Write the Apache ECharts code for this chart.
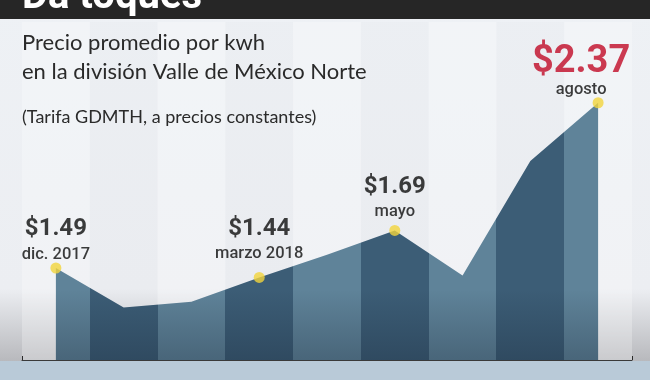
<!DOCTYPE html>
<html>
<head>
<meta charset="utf-8">
<script src="https://cdn.jsdelivr.net/npm/echarts@6/dist/echarts.min.js"></script>
<style>
html,body{margin:0;padding:0;background:#eef1f5;}
#chart{width:650px;height:380px;}
</style>
</head>
<body>
<div id="chart"></div>
<script>
// ---- data ----
var categories = ['dic. 2017','ene. 2018','feb. 2018','marzo 2018','abr. 2018','mayo','jun. 2018','jul. 2018','agosto'];
var values = [1.49, 1.28, 1.31, 1.44, 1.56, 1.69, 1.45, 2.06, 2.37];
var highlightIndex = [0, 3, 5, 8];
var highlightLabels = ['dic. 2017', 'marzo 2018', 'mayo', 'agosto'];
var headerText = 'Da toques';
var subtitleLines = ['Precio promedio por kwh', 'en la división Valle de México Norte'];
var noteText = '(Tarifa GDMTH, a precios constantes)';

// ---- styles ----
var LIGHT = '#5f8399', DARK = '#3c5d76';
var labelStyle = {
  0: {distance: -1, offset: [0, 0], big: false},
  3: {distance: 9, offset: [0, 0], big: false},
  5: {distance: 4, offset: [0, 0], big: false},
  8: {distance: 2, offset: [-17, 4], big: true}
};

var chart = echarts.init(document.getElementById('chart'));

var areaData = values.map(function (v, i) { return [i + 0.5, v]; });
var pieces = categories.map(function (c, i) {
  return {gte: i, lt: i + 1, color: i % 2 === 0 ? LIGHT : DARK};
});
var dotData = highlightIndex.map(function (idx, k) {
  var st = labelStyle[idx];
  return {
    value: [idx + 0.5, values[idx]],
    label: {
      show: true,
      position: 'top',
      distance: st.distance,
      offset: st.offset,
      formatter: (st.big ? '{vb|$' : '{v|$') + values[idx].toFixed(2) + '}\n{d|' + highlightLabels[k] + '}'
    }
  };
});

var option = {
  animation: false,
  backgroundColor: 'transparent',
  grid: {left: 22, right: 18, top: 22, bottom: 20},
  xAxis: {
    type: 'value', min: 0, max: 9, interval: 1,
    axisLabel: {show: false},
    axisLine: {show: true, lineStyle: {color: '#3a3a3a', width: 1}},
    axisTick: {show: true, inside: true, length: 4, lineStyle: {color: '#2a2a2a'}},
    splitLine: {show: false},
    splitArea: {show: true, areaStyle: {color: ['rgba(255,255,255,0.25)', 'rgba(0,0,0,0.008)']}}
  },
  yAxis: {
    type: 'value', min: 1, max: 2.8, show: false,
    splitLine: {show: false}
  },
  visualMap: {
    show: false, type: 'piecewise', dimension: 0, seriesIndex: 0,
    pieces: pieces
  },
  series: [
    {
      type: 'line', data: areaData, symbol: 'none',
      lineStyle: {width: 0},
      areaStyle: {opacity: 1},
      z: 2
    },
    {
      type: 'line', data: areaData, symbol: 'none',
      lineStyle: {width: 0},
      areaStyle: {
        opacity: 1,
        color: {type: 'linear', x: 0, y: 290, x2: 0, y2: 360, global: true,
          colorStops: [{offset: 0, color: 'rgba(15,25,40,0)'}, {offset: 1, color: 'rgba(15,25,40,0.28)'}]}
      },
      z: 3
    },
    {
      type: 'scatter', data: dotData, symbolSize: 11,
      itemStyle: {color: '#f3d43c'},
      z: 5,
      label: {
        rich: {
          v: {fontFamily: 'Roboto', fontWeight: 'bold', fontSize: 24, color: '#0d0d0d', lineHeight: 32, align: 'center'},
          vb: {fontFamily: 'Roboto', fontWeight: 'bold', fontSize: 38, color: '#c00a25', lineHeight: 38, align: 'center'},
          d: {fontFamily: 'Roboto', fontWeight: 500, fontSize: 16.5, color: '#0d0d0d', lineHeight: 18, align: 'center'}
        }
      }
    }
  ],
  graphic: [
    {type: 'rect', z: -100, silent: true, shape: {x: 0, y: 0, width: 650, height: 380},
      style: {fill: {type: 'linear', x: 0, y: 0, x2: 0, y2: 1,
        colorStops: [{offset: 0, color: '#eef1f5'}, {offset: 0.76, color: '#eceef2'}, {offset: 0.95, color: '#b8b9bd'}, {offset: 1, color: '#b8b9bd'}]}}},
    {type: 'rect', z: 100, silent: true, shape: {x: 0, y: 361, width: 650, height: 19}, style: {fill: '#b9cad8'}},
    {type: 'rect', z: 100, silent: true, shape: {x: 0, y: 0, width: 650, height: 19}, style: {fill: '#262626'}},
    {type: 'text', z: 101, silent: true, x: 22, y: -2,
      style: {text: headerText, fill: '#ffffff', font: 'bold 40px Roboto', verticalAlign: 'middle'}},
    {type: 'text', z: 101, silent: true, x: 22, y: 32,
      style: {text: subtitleLines[0], fill: '#2a2a2a', font: '22px Lato', verticalAlign: 'top'}},
    {type: 'text', z: 101, silent: true, x: 22, y: 61,
      style: {text: subtitleLines[1], fill: '#2a2a2a', font: '22px Lato', verticalAlign: 'top'}},
    {type: 'text', z: 101, silent: true, x: 22, y: 108,
      style: {text: noteText, fill: '#2a2a2a', font: '18px Lato', verticalAlign: 'top'}}
  ]
};
chart.setOption(option);
</script>
</body>
</html>
